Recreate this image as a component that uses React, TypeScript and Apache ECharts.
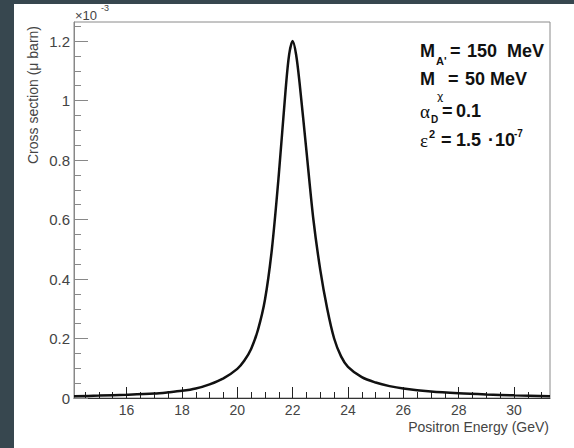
import React, { useEffect, useRef } from "react";
import * as echarts from "echarts";

// Positron energy (GeV)
const energies = [
  14.1, 15, 16, 17, 17.5, 18, 18.5, 19, 19.5, 20, 20.25, 20.5, 20.75, 21, 21.25,
  21.5, 21.75, 21.875, 22, 22.125, 22.25, 22.5, 22.75, 23, 23.25, 23.5, 23.75, 24,
  24.5, 25, 25.5, 26, 27, 28, 29, 30, 31.3,
];
// Cross section (x 1e-3 micro barn)
const xsec = [
  0.006, 0.008, 0.011, 0.015, 0.019, 0.024, 0.032, 0.046, 0.066, 0.098, 0.125, 0.165,
  0.23, 0.33, 0.5, 0.75, 1.04, 1.155, 1.2, 1.155, 1.06, 0.83, 0.6, 0.43, 0.3, 0.2,
  0.14, 0.105, 0.07, 0.052, 0.04, 0.032, 0.022, 0.016, 0.012, 0.009, 0.006,
];

const xMajorTicks = [16, 18, 20, 22, 24, 26, 28, 30];
const xMinorTicks = [
  14.5, 15, 15.5, 16.5, 17, 17.5, 18.5, 19, 19.5, 20.5, 21, 21.5, 22.5, 23, 23.5,
  24.5, 25, 25.5, 26.5, 27, 27.5, 28.5, 29, 29.5, 30.5, 31,
];
const yMajorTicks = [0, 0.2, 0.4, 0.6, 0.8, 1, 1.2];
const yMinorTicks = [
  0.05, 0.1, 0.15, 0.25, 0.3, 0.35, 0.45, 0.5, 0.55, 0.65, 0.7, 0.75, 0.85, 0.9,
  0.95, 1.05, 1.1, 1.15, 1.25,
];

const X_MIN = 14.1;
const X_MAX = 31.3;
const Y_MIN = 0;
const Y_MAX = 1.264;

const SANS = "'Liberation Sans', Arial, sans-serif";
const SERIF = "'Liberation Serif', 'Times New Roman', serif";
const GREEK = "'DejaVu Sans', sans-serif";

function t(text: string, x: number, y: number, size: number, opts: any = {}) {
  return {
    type: "text",
    x,
    y,
    silent: true,
    style: {
      text,
      fill: opts.fill || "#111",
      fontSize: size,
      fontWeight: opts.weight || "bold",
      fontFamily: opts.family || SANS,
      align: opts.align || "left",
      verticalAlign: "middle",
    },
  };
}

export default function App() {
  const ref = useRef<HTMLDivElement>(null);

  useEffect(() => {
    if (!ref.current) return;
    const chart = echarts.init(ref.current, undefined, { renderer: "svg" });
    const grid = { left: 74, top: 22, right: 24, bottom: 50 };
    chart.setOption({
      animation: false,
      backgroundColor: "transparent",
      grid: [
        { ...grid, show: true, borderColor: "#8a8a8a", borderWidth: 1, backgroundColor: "#fff" },
        { ...grid, show: false },
      ],
      xAxis: [
        {
          type: "value",
          gridIndex: 0,
          min: X_MIN,
          max: X_MAX,
          axisLine: { show: true, lineStyle: { color: "#333", width: 1 } },
          axisTick: {
            show: true,
            inside: true,
            length: 11,
            customValues: xMajorTicks,
            lineStyle: { color: "#222", width: 1 },
          },
          axisLabel: {
            show: true,
            customValues: xMajorTicks,
            fontSize: 14,
            color: "#444",
            fontFamily: SANS,
            margin: 5,
          },
          splitLine: { show: false },
        },
        {
          type: "value",
          gridIndex: 1,
          min: X_MIN,
          max: X_MAX,
          axisLine: { show: false },
          axisTick: {
            show: true,
            inside: true,
            length: 6,
            customValues: xMinorTicks,
            lineStyle: { color: "#222", width: 1 },
          },
          axisLabel: { show: false },
          splitLine: { show: false },
        },
      ],
      yAxis: [
        {
          type: "value",
          gridIndex: 0,
          min: Y_MIN,
          max: Y_MAX,
          axisLine: { show: true, lineStyle: { color: "#888", width: 1 } },
          axisTick: {
            show: true,
            inside: true,
            length: 14,
            customValues: yMajorTicks,
            lineStyle: { color: "#888", width: 1 },
          },
          axisLabel: {
            show: true,
            customValues: yMajorTicks,
            fontSize: 15,
            color: "#444",
            fontFamily: SANS,
            margin: 4,
          },
          splitLine: { show: false },
        },
        {
          type: "value",
          gridIndex: 1,
          min: Y_MIN,
          max: Y_MAX,
          axisLine: { show: false },
          axisTick: {
            show: true,
            inside: true,
            length: 7,
            customValues: yMinorTicks,
            lineStyle: { color: "#888", width: 1 },
          },
          axisLabel: { show: false },
          splitLine: { show: false },
        },
      ],
      series: [
        {
          type: "line",
          xAxisIndex: 0,
          yAxisIndex: 0,
          data: energies.map((e, i) => [e, xsec[i]]),
          showSymbol: false,
          smooth: 0.3,
          lineStyle: { color: "#111", width: 2.5 },
          z: 3,
        },
      ],
      graphic: [
        // axis titles
        {
          type: "text",
          x: 33,
          y: 95,
          rotation: Math.PI / 2,
          silent: true,
          style: {
            text: "Cross section (μ barn)",
            fill: "#444",
            fontSize: 14,
            fontWeight: "normal",
            fontFamily: SANS,
            align: "center",
            verticalAlign: "middle",
          },
        },
        t("Positron Energy (GeV)", 549, 427, 14, { weight: "normal", align: "right", fill: "#444" }),
        // exponent
        t("×10", 75, 15, 13, { weight: "normal", fill: "#444" }),
        t("-3", 101, 8, 9, { weight: "normal", fill: "#444" }),
        // annotation line 1
        t("M", 420, 51, 18),
        t("A'", 436, 61, 11),
        t("=", 450, 51, 18),
        t("150", 467, 51, 18),
        t("MeV", 507, 51, 18),
        // line 2
        t("M", 420, 79, 18),
        t("χ", 437, 96, 11, { weight: "normal", family: GREEK }),
        t("=", 448, 79, 18),
        t("50", 465, 79, 18),
        t("MeV", 490, 79, 18),
        // line 3
        t("α", 420, 111, 19, { weight: "normal", family: SERIF }),
        t("D", 431, 119, 10),
        t("=", 442, 111, 18),
        t("0.1", 456, 111, 18),
        // line 4
        t("ε", 420, 140, 19, { weight: "normal", family: SERIF }),
        t("2", 429, 134, 11),
        t("=", 441, 140, 18),
        t("1.5", 456, 140, 18),
        t("·", 488, 140, 18),
        t("10", 495, 140, 18),
        t("-7", 514, 133, 10),
      ],
    });
    return () => chart.dispose();
  }, []);

  return (
    <div
      style={{
        position: "fixed",
        left: 0,
        top: 0,
        width: 574,
        height: 448,
        background: "#37474f",
        overflow: "hidden",
      }}
    >
      <div
        style={{
          position: "absolute",
          left: 14,
          top: 4,
          right: 0,
          bottom: 0,
          background: "#ffffff",
        }}
      />
      <div
        ref={ref}
        style={{ position: "absolute", left: 0, top: 0, width: 574, height: 448 }}
      />
    </div>
  );
}
